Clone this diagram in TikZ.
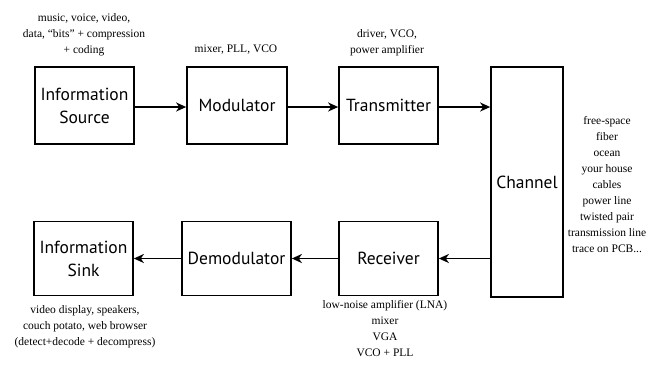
\documentclass[tikz,border=0pt]{standalone}
\usepackage{fontspec}
\setmainfont{Liberation Serif}
\newfontfamily\boxfont{PT Sans}
\usetikzlibrary{arrows.meta}
\begin{document}
\begin{tikzpicture}[x=1pt,y=-1pt,
  blk/.style={draw,line width=1.7pt,inner sep=0pt,font=\boxfont\fontsize{17.5}{23}\selectfont,align=center},
  note/.style={font=\fontsize{11.5}{16}\selectfont,align=center,inner sep=0pt},
  conn/.style={line width=1.7pt,-{Stealth[length=10pt,width=9pt,inset=3pt]}}]
\useasboundingbox (0,0) rectangle (647,368);
\node[blk,minimum width=99pt,minimum height=77pt] (src) at (84.5,105.5) {Information\\Source};
\node[blk,minimum width=100pt,minimum height=77pt] (mod) at (237,105.5) {Modulator};
\node[blk,minimum width=99pt,minimum height=77pt] (tx) at (388.5,105.5) {Transmitter};
\node[blk,minimum width=72pt,minimum height=230pt] (ch) at (527,182) {Channel};
\node[blk,minimum width=99pt,minimum height=74pt] (rx) at (388.5,258.5) {Receiver};
\node[blk,minimum width=109pt,minimum height=74pt] (dem) at (236.5,258.5) {Demodulator};
\node[blk,minimum width=99pt,minimum height=74pt] (snk) at (83.5,258.5) {Information\\Sink};
\coordinate (a1) at (134,107);
\draw[conn] (src.east |- a1) -- (mod.west |- a1);
\draw[conn] (mod.east |- a1) -- (tx.west |- a1);
\draw[conn] (tx.east |- a1) -- (ch.west |- a1);
\draw[conn] (ch.west |- rx.east) -- (rx.east);
\draw[conn] (rx.west) -- (dem.east);
\draw[conn] (dem.west) -- (snk.east);
\node[note] (n1) at (84,35) {music, voice, video,\\data, ``bits'' + compression\\+ coding};
\node[note] (n2) at (236,50) {mixer, PLL, VCO};
\node[note] (n3) at (387,43) {driver, VCO,\\power amplifier};
\node[note] (n4) at (607,184.5) {free-space\\fiber\\ocean\\your house\\cables\\power line\\twisted pair\\transmission line\\trace on PCB...};
\node[note] (n5) at (385,328.5) {low-noise amplifier (LNA)\\mixer\\VGA\\VCO + PLL};
\node[note] (n6) at (85,327) {video display, speakers,\\couch potato, web browser\\(detect+decode + decompress)};
\end{tikzpicture}
\end{document}
